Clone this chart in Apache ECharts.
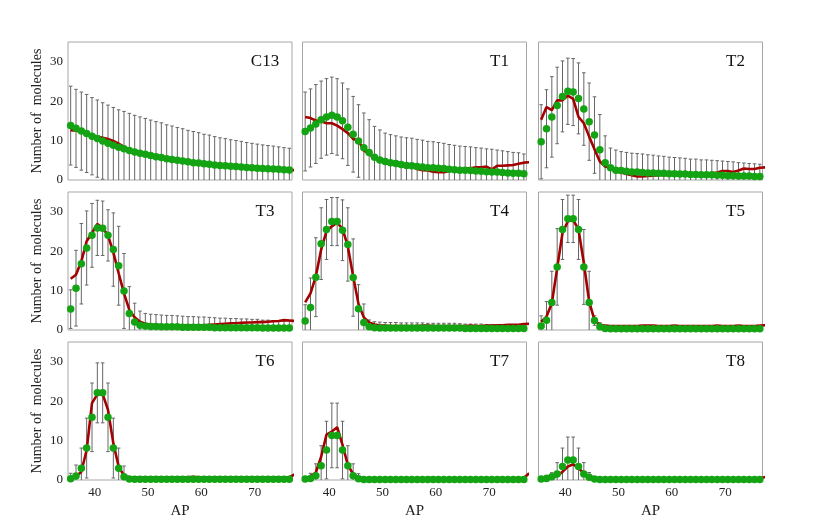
<!DOCTYPE html>
<html><head><meta charset="utf-8">
<script src="https://cdn.jsdelivr.net/npm/echarts@6/dist/echarts.min.js"></script>
<style>html,body{margin:0;padding:0;background:#fff}#c{width:830px;height:523px}</style>
</head><body><div id="c"></div>
<script>
// AP bin centres
const AP = [35.5,36.5,37.5,38.5,39.5,40.5,41.5,42.5,43.5,44.5,45.5,46.5,47.5,48.5,49.5,50.5,51.5,52.5,53.5,54.5,55.5,56.5,57.5,58.5,59.5,60.5,61.5,62.5,63.5,64.5,65.5,66.5,67.5,68.5,69.5,70.5,71.5,72.5,73.5,74.5,75.5,76.5,77.5];
const PANEL_NAMES = ['C13','T1','T2','T3','T4','T5','T6','T7','T8'];
const Y_TICKS = [0,10,20,30];
const X_TICKS = [40,50,60,70];

// green dots (mean), error (sd), red line (model)
const C13_mean = [13.8,13.1,12.4,11.8,11.1,10.5,9.9,9.3,8.8,8.3,7.9,7.5,7.1,6.8,6.5,6.2,5.9,5.7,5.4,5.2,5.0,4.8,4.6,4.4,4.3,4.1,4.0,3.8,3.7,3.6,3.5,3.4,3.3,3.2,3.1,3.0,2.9,2.85,2.8,2.7,2.6,2.55,2.5];
const C13_sd   = [10.0,9.9,9.9,9.9,9.8,9.8,9.7,9.7,9.6,9.5,9.5,9.4,9.3,9.2,9.1,9.0,8.9,8.8,8.6,8.5,8.3,8.2,8.0,7.9,7.7,7.5,7.4,7.2,7.0,6.9,6.7,6.6,6.5,6.3,6.2,6.1,6.0,5.9,5.8,5.7,5.6,5.5,5.4];
const C13_red  = [12.6,12.5,12.3,11.9,11.4,11.0,10.7,10.4,9.9,9.2,8.4,7.8,7.3,6.9,6.5,6.2,5.9,5.7,5.4,5.2,5.0,4.8,4.6,4.4,4.3,4.1,4.0,3.8,3.7,3.6,3.5,3.4,3.3,3.2,3.1,3.0,2.9,2.85,2.8,2.7,2.6,2.55,2.5];

const T1_mean = [12.3,13.2,14.2,15.3,16.0,16.4,16.0,15.0,13.4,11.6,9.9,8.2,7.0,5.8,5.1,4.7,4.4,4.2,3.9,3.7,3.6,3.4,3.3,3.1,3.1,3.0,2.9,2.7,2.6,2.5,2.5,2.4,2.3,2.2,2.1,2.0,2.0,1.9,1.8,1.7,1.7,1.6,1.6];
const T1_sd   = [10.0,9.9,10.0,9.8,9.7,9.7,9.7,9.6,9.7,9.6,9.2,8.8,8.3,7.8,7.6,7.2,7.1,7.0,7.0,7.0,7.0,6.9,6.8,6.7,6.6,6.5,6.4,6.3,6.2,6.1,6.0,6.0,5.9,5.9,5.8,5.8,5.6,5.5,5.4,5.3,5.2,5.0,5.0];
const T1_red  = [16.0,15.7,15.1,14.9,14.4,14.4,13.8,12.9,11.9,10.4,10.0,7.5,6.6,5.5,4.9,4.4,4.0,3.8,3.6,3.4,3.4,2.8,2.5,2.4,2.1,2.0,2.0,2.3,2.5,2.7,2.9,3.0,3.2,3.2,3.4,2.7,3.6,3.6,3.7,3.8,4.1,4.4,4.5];

const T2_mean = [9.7,13.0,16.0,18.9,21.2,22.5,22.3,20.7,18.0,14.8,11.4,7.7,4.4,3.1,2.5,2.4,2.2,2.0,2.0,1.9,1.8,1.8,1.7,1.7,1.6,1.6,1.5,1.5,1.4,1.4,1.3,1.3,1.3,1.2,1.2,1.1,1.1,1.0,1.0,1.0,0.9,0.9,0.9];
const T2_sd   = [9.4,9.9,10.2,9.7,9.0,8.4,8.5,9.0,9.2,9.8,9.7,8.9,6.8,5.0,5.1,4.8,4.8,4.8,4.7,4.7,4.6,4.5,4.4,4.3,4.2,4.1,4.1,4.0,3.9,3.9,3.8,3.8,3.7,3.7,3.6,3.6,3.5,3.4,3.3,3.2,3.2,3.1,3.1];
const T2_red  = [15.3,18.5,17.7,20.2,20.2,21.4,20.6,16.0,14.4,11.0,7.8,4.7,3.4,3.1,2.1,1.9,1.5,1.2,0.9,0.9,1.0,1.1,1.2,1.2,1.3,1.3,1.2,1.3,1.4,1.3,1.4,1.5,1.7,1.9,2.3,2.3,2.0,2.4,2.9,2.8,2.8,3.1,3.2];

const T3_mean = [5.3,10.6,16.8,20.8,24.0,25.9,25.8,24.0,20.4,16.3,9.9,4.2,2.0,1.2,1.0,0.9,0.9,0.8,0.8,0.8,0.8,0.7,0.7,0.7,0.7,0.7,0.7,0.6,0.6,0.6,0.6,0.6,0.6,0.6,0.6,0.6,0.5,0.5,0.5,0.5,0.5,0.5,0.5];
const T3_sd   = [4.9,9.6,10.2,9.4,8.1,7.0,6.9,6.5,9.3,10.0,9.5,6.8,4.8,3.6,3.2,3.1,3.0,3.0,2.9,2.9,2.8,2.8,2.7,2.7,2.6,2.6,2.5,2.5,2.4,2.4,2.3,2.3,2.2,2.2,2.1,2.1,2.0,2.0,1.9,1.9,1.8,1.8,1.8];
const T3_red  = [13.0,14.0,17.4,22.5,24.6,26.9,25.9,24.0,19.7,14.4,9.3,5.1,3.2,2.1,1.6,1.4,1.3,1.2,1.2,1.2,1.2,1.2,1.2,1.2,1.2,1.2,1.3,1.4,1.5,1.6,1.7,1.7,1.8,1.9,1.9,2.0,2.0,2.1,2.2,2.3,2.5,2.4,2.3];

const T4_mean = [2.3,5.7,13.4,21.9,25.5,27.5,27.5,25.3,21.7,13.3,5.4,1.9,0.85,0.6,0.5,0.5,0.5,0.5,0.5,0.5,0.5,0.5,0.5,0.5,0.5,0.5,0.5,0.5,0.5,0.5,0.4,0.4,0.4,0.4,0.4,0.4,0.4,0.4,0.4,0.4,0.4,0.4,0.4];
const T4_sd   = [4.1,7.5,10.0,9.1,7.6,6.1,6.1,7.7,9.3,9.8,6.1,4.7,1.7,1.5,1.5,1.4,1.4,1.4,1.3,1.3,1.3,1.3,1.3,1.2,1.2,1.2,1.2,1.2,1.2,1.1,1.1,1.1,1.1,1.1,1.0,1.0,1.0,1.0,1.0,1.0,1.0,1.0,1.0];
const T4_red  = [7.0,9.3,13.6,20.4,25.1,26.3,27.2,25.7,21.2,13.6,6.6,3.2,1.9,1.4,1.2,1.1,1.0,1.0,1.0,1.0,1.0,1.0,1.1,1.1,1.0,1.0,1.0,1.0,1.0,1.0,1.0,1.1,1.0,1.0,1.1,1.1,1.2,1.2,1.3,1.3,1.3,1.5,1.6];

const T5_mean = [1.0,2.5,7.0,16.0,25.5,28.2,28.2,25.5,16.0,7.0,2.4,0.85,0.4,0.3,0.3,0.3,0.3,0.3,0.3,0.3,0.3,0.3,0.3,0.3,0.3,0.3,0.3,0.3,0.3,0.3,0.3,0.3,0.3,0.3,0.3,0.3,0.3,0.3,0.3,0.3,0.3,0.3,0.9];
const T5_sd   = [2.6,4.7,7.9,9.7,7.6,6.0,6.0,7.6,9.5,7.9,1.2,1.0,0.8,0.8,0.8,0.8,0.8,0.7,0.7,0.7,0.7,0.7,0.7,0.7,0.7,0.7,0.7,0.7,0.7,0.7,0.7,0.7,0.7,0.7,0.7,0.7,0.7,0.7,0.7,0.7,0.7,0.7,0.7];
const T5_red  = [2.1,3.4,6.8,15.7,24.6,27.6,27.9,25.5,17.0,7.2,2.5,1.3,1.1,1.0,1.0,1.0,1.0,1.0,1.0,1.1,1.1,1.1,1.0,1.0,1.0,1.1,1.0,1.0,1.0,1.0,1.0,1.0,1.0,1.1,1.0,1.0,1.0,1.1,1.0,1.0,1.0,1.1,1.2];

const T6_mean = [0.3,1.0,3.0,8.1,15.9,22.1,22.1,15.9,8.1,3.0,0.85,0.25,0.2,0.2,0.2,0.2,0.2,0.2,0.2,0.2,0.2,0.2,0.2,0.2,0.2,0.2,0.2,0.2,0.2,0.2,0.2,0.2,0.2,0.2,0.2,0.2,0.2,0.2,0.2,0.2,0.2,0.2,1.5];
const T6_sd   = [1.4,2.8,5.1,7.6,8.7,7.6,7.6,8.7,7.6,5.1,2.7,0.6,0.5,0.5,0.5,0.5,0.5,0.5,0.5,0.5,0.5,0.5,0.5,0.5,0.5,0.5,0.5,0.5,0.5,0.5,0.5,0.5,0.5,0.5,0.5,0.5,0.5,0.5,0.5,0.5,0.5,0.5,0.5];
const T6_red  = [0.4,0.85,2.1,7.6,19.5,21.7,21.8,17.8,9.3,3.4,1.1,0.7,0.6,0.6,0.6,0.6,0.6,0.6,0.6,0.6,0.6,0.7,0.7,0.8,0.7,0.6,0.6,0.6,0.6,0.6,0.6,0.6,0.6,0.6,0.6,0.6,0.7,0.6,0.6,0.7,0.6,0.7,1.4];

const T7_mean = [0.25,0.4,1.1,3.6,7.6,11.3,11.3,7.6,3.6,1.1,0.3,0.1,0.1,0.1,0.1,0.1,0.1,0.1,0.1,0.1,0.1,0.1,0.1,0.1,0.1,0.1,0.1,0.1,0.1,0.1,0.1,0.1,0.1,0.1,0.1,0.1,0.1,0.1,0.1,0.1,0.1,0.1,1.0];
const T7_sd   = [0.6,1.3,3.0,5.1,7.3,8.2,8.2,7.3,5.1,3.0,1.3,0.3,0.3,0.3,0.3,0.3,0.3,0.3,0.3,0.3,0.3,0.3,0.3,0.3,0.3,0.3,0.3,0.3,0.3,0.3,0.3,0.3,0.3,0.3,0.3,0.3,0.3,0.3,0.3,0.3,0.3,0.3,0.3];
const T7_red  = [0.4,0.85,1.9,5.9,11.5,12.3,13.4,8.9,3.8,1.5,0.6,0.5,0.4,0.4,0.4,0.4,0.4,0.4,0.4,0.4,0.4,0.4,0.4,0.5,0.5,0.4,0.4,0.4,0.4,0.4,0.4,0.4,0.4,0.4,0.4,0.4,0.5,0.5,0.4,0.4,0.4,0.5,1.7];

const T8_mean = [0.25,0.4,0.85,1.5,3.4,5.1,5.1,3.4,1.5,0.7,0.25,0.1,0.1,0.1,0.1,0.1,0.1,0.1,0.1,0.1,0.1,0.1,0.1,0.1,0.1,0.1,0.1,0.1,0.1,0.1,0.1,0.1,0.1,0.1,0.1,0.1,0.1,0.1,0.1,0.1,0.1,0.1,0.7];
const T8_sd   = [0.6,0.8,1.0,2.9,4.7,5.8,5.8,4.7,2.9,1.2,0.6,0.3,0.3,0.3,0.3,0.3,0.3,0.3,0.3,0.3,0.3,0.3,0.3,0.3,0.3,0.3,0.3,0.3,0.3,0.3,0.3,0.3,0.3,0.3,0.3,0.3,0.3,0.3,0.3,0.3,0.3,0.3,0.3];
const T8_red  = [0.3,0.4,0.7,1.0,2.1,3.4,4.0,3.0,1.7,0.7,0.3,0.3,0.3,0.3,0.3,0.3,0.3,0.3,0.3,0.3,0.3,0.3,0.3,0.3,0.3,0.3,0.3,0.3,0.3,0.3,0.3,0.3,0.3,0.3,0.3,0.3,0.3,0.3,0.3,0.3,0.3,0.3,0.8];

const MEANS = [C13_mean,T1_mean,T2_mean,T3_mean,T4_mean,T5_mean,T6_mean,T7_mean,T8_mean];
const SDS   = [C13_sd,T1_sd,T2_sd,T3_sd,T4_sd,T5_sd,T6_sd,T7_sd,T8_sd];
const REDS  = [C13_red,T1_red,T2_red,T3_red,T4_red,T5_red,T6_red,T7_red,T8_red];

const FONT = "'Liberation Serif', 'DejaVu Serif', serif";
const COL_LEFT = [68, 302.5, 538.5];
const ROW_TOP = [42, 192, 342];
const W = 224, H = 138;

const grids = [], xAxes = [], yAxes = [], series = [], graphics = [];
for (let p = 0; p < 9; p++) {
  const r = Math.floor(p / 3), c = p % 3;
  grids.push({left: COL_LEFT[c], top: ROW_TOP[r], width: W, height: H,
    show: true, borderColor: '#a6a6a6', borderWidth: 1, backgroundColor: 'transparent'});
  const bottomRow = r === 2, leftCol = c === 0;
  xAxes.push({type: 'value', gridIndex: p, min: 35, max: 77, interval: 5,
    axisLine: {show: false}, axisTick: {show: false}, splitLine: {show: false},
    axisLabel: {show: bottomRow, margin: 6, fontFamily: FONT, fontSize: 13, color: '#222',
      formatter: v => X_TICKS.indexOf(v) >= 0 ? String(v) : ''},
    name: bottomRow ? 'AP' : '', nameLocation: 'middle', nameGap: 24,
    nameTextStyle: {fontFamily: FONT, fontSize: 15, color: '#222'}});
  yAxes.push({type: 'value', gridIndex: p, min: 0, max: 35, interval: 10,
    axisLine: {show: false}, axisTick: {show: false}, splitLine: {show: false},
    axisLabel: {show: leftCol, margin: 5, fontFamily: FONT, fontSize: 13, color: '#222',
      showMaxLabel: false,
      formatter: v => Y_TICKS.indexOf(v) >= 0 ? String(v) : ''},
    name: leftCol ? 'Number of  molecules' : '', nameLocation: 'middle', nameGap: 24,
    nameTextStyle: {fontFamily: FONT, fontSize: 14, color: '#222'}});

  const mean = MEANS[p], sd = SDS[p], red = REDS[p];
  series.push({
    type: 'custom', xAxisIndex: p, yAxisIndex: p, clip: true, z: 2, silent: true,
    data: AP.map((x, i) => [x, mean[i] - sd[i], mean[i] + sd[i]]),
    encode: {x: 0, y: [1, 2]},
    renderItem: (params, api) => {
      const x = api.value(0);
      const lo = api.coord([x, api.value(1)]);
      const hi = api.coord([x, api.value(2)]);
      const cap = 1.8;
      const st = {stroke: '#666', lineWidth: 1};
      return {type: 'group', children: [
        {type: 'line', shape: {x1: lo[0], y1: lo[1], x2: hi[0], y2: hi[1]}, style: st},
        {type: 'line', shape: {x1: lo[0] - cap, y1: lo[1], x2: lo[0] + cap, y2: lo[1]}, style: st},
        {type: 'line', shape: {x1: hi[0] - cap, y1: hi[1], x2: hi[0] + cap, y2: hi[1]}, style: st}
      ]};
    }
  });
  series.push({
    type: 'line', xAxisIndex: p, yAxisIndex: p, clip: true, z: 3, silent: true,
    showSymbol: false, symbol: 'none',
    data: AP.map((x, i) => [x, red[i]]),
    lineStyle: {color: '#a30000', width: 2.6}
  });
  series.push({
    type: 'scatter', xAxisIndex: p, yAxisIndex: p, clip: true, z: 4, silent: true,
    symbolSize: 7.5,
    data: AP.map((x, i) => [x, mean[i]]),
    itemStyle: {color: '#13a313', opacity: 1}
  });
  graphics.push({type: 'text', x: COL_LEFT[c] + W - 27, y: ROW_TOP[r] + 20,
    style: {text: PANEL_NAMES[p], font: "17px 'Liberation Serif'", fill: '#111',
      textAlign: 'center', textVerticalAlign: 'middle'}});
}

const chart = echarts.init(document.getElementById('c'), null, {renderer: 'canvas'});
chart.setOption({
  animation: false,
  backgroundColor: '#fff',
  grid: grids, xAxis: xAxes, yAxis: yAxes, series: series,
  graphic: graphics
});
</script>
</body></html>
